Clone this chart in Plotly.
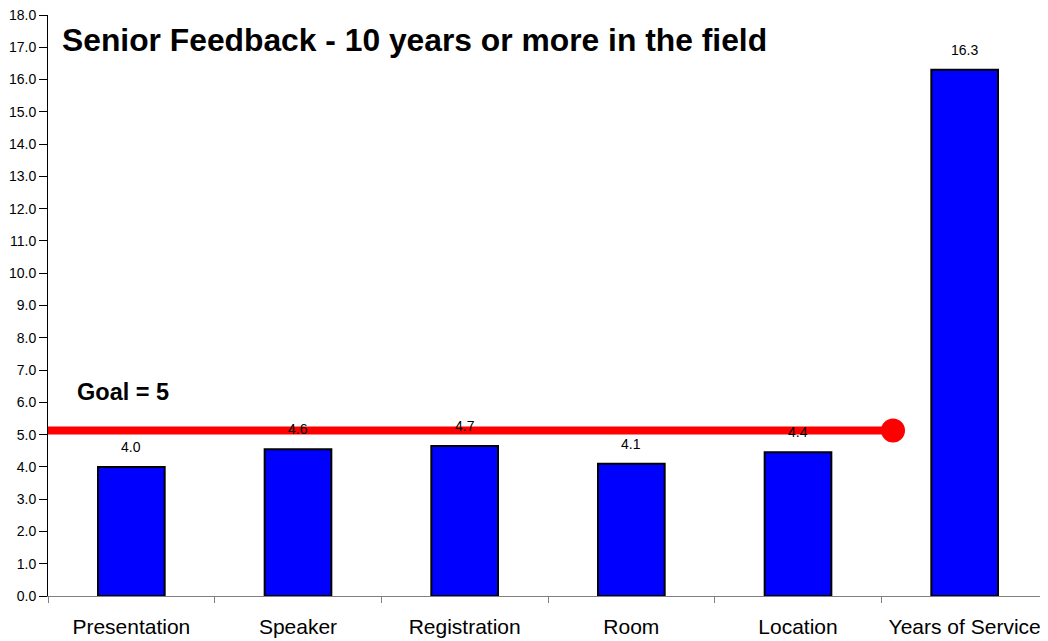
import plotly.graph_objects as go

categories = ["Presentation", "Speaker", "Registration", "Room", "Location", "Years of Service"]
values = [4.0, 4.55, 4.65, 4.1, 4.45, 16.3]
value_labels = ["4.0", "4.6", "4.7", "4.1", "4.4", "16.3"]
goal_x = [-0.5, 4.57]
goal_y = [5.13, 5.13]
y_ticks = [i * 1.0 for i in range(19)]

FONT = "Liberation Sans, Arial, sans-serif"

fig = go.Figure()
fig.add_trace(go.Bar(
    x=categories, y=values, width=0.4,
    marker=dict(color="#0000FF", line=dict(color="black", width=2)),
    showlegend=False, hoverinfo="skip",
))
fig.add_trace(go.Scatter(
    x=goal_x, y=goal_y, xaxis="x2", mode="lines",
    line=dict(color="#FF0000", width=8),
    showlegend=False, hoverinfo="skip", cliponaxis=False,
))
fig.add_trace(go.Scatter(
    x=goal_x[-1:], y=goal_y[-1:], xaxis="x2", mode="markers",
    marker=dict(color="#FF0000", size=24, line=dict(width=0)),
    showlegend=False, hoverinfo="skip", cliponaxis=False,
))

for c, v, t in zip(categories, values, value_labels):
    fig.add_annotation(x=c, y=v, xref="x", yref="y", text=t, showarrow=False,
                       yanchor="bottom", yshift=10, font=dict(size=14, color="black", family=FONT))
fig.add_annotation(x=0.012, y=0.957, xref="paper", yref="paper",
                   text="<b>Senior Feedback - 10 years or more in the field</b>",
                   showarrow=False, xanchor="left", yanchor="middle",
                   font=dict(size=31.8, color="black", family=FONT))
fig.add_annotation(x=0.027, y=0.351, xref="paper", yref="paper", text="<b>Goal = 5</b>", showarrow=False,
                   xanchor="left", yanchor="middle", font=dict(size=23.5, color="black", family=FONT))

fig.update_layout(
    width=1048, height=641,
    margin=dict(l=40, r=8, t=7, b=53, autoexpand=False),
    plot_bgcolor="white", paper_bgcolor="white",
    font=dict(family=FONT, color="black"),
    xaxis=dict(type="category", range=[-0.5, 5.5], showgrid=False, showline=True, linecolor="#808080", linewidth=1,
               ticks="outside", tickson="boundaries", ticklen=6, tickcolor="#808080",
               ticklabelstandoff=12, automargin=False,
               tickfont=dict(size=21, family=FONT, color="black")),
    xaxis2=dict(overlaying="x", range=[-0.5, 5.5], visible=False),
    yaxis=dict(range=[0, 18], tickvals=y_ticks, tickformat=".1f", showgrid=False, zeroline=False,
               showline=True, linecolor="black", linewidth=1, ticks="outside", ticklen=8, tickcolor="black",
               ticklabeloverflow="allow", automargin=False,
               tickfont=dict(size=14, family=FONT, color="black")),
)

fig.write_html("out.html")
